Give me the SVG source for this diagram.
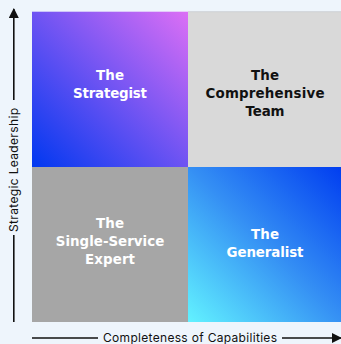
<svg xmlns="http://www.w3.org/2000/svg" width="341" height="344" viewBox="0 0 341 344">
<defs>
<linearGradient id="gTL" x1="0" y1="1" x2="1" y2="0">
<stop offset="0" stop-color="#0038f0"/>
<stop offset="1" stop-color="#dc6ff5"/>
</linearGradient>
<linearGradient id="gBR" x1="0" y1="1" x2="1" y2="0">
<stop offset="0" stop-color="#62f2ff"/>
<stop offset="0.5" stop-color="#3590f4"/>
<stop offset="1" stop-color="#003cf0"/>
</linearGradient>
<marker id="arr" viewBox="0 0 10 10" refX="9" refY="5" markerWidth="10" markerHeight="10" markerUnits="userSpaceOnUse" orient="auto">
<path d="M0,0 L10,5 L0,10 Z" fill="#111"/>
</marker>
<style>
.lbl{font-family:"DejaVu Sans","Noto Sans","Liberation Sans",sans-serif;font-weight:700;font-size:13.4px;text-anchor:middle}
.ax{font-family:"Inter","Noto Sans","Liberation Sans",sans-serif;font-weight:400;font-size:12px;fill:#111;text-anchor:middle}
.axl{stroke:#111;stroke-width:1.6;fill:none}
</style>
</defs>
<rect width="341" height="344" fill="#eef5fc"/>
<g id="q-strategist">
<rect x="32" y="11.7" width="156" height="155.3" fill="url(#gTL)"/>
<text class="lbl" fill="#fff"><tspan x="110" y="80" textLength="28">The</tspan><tspan x="110" y="98" textLength="74">Strategist</tspan></text>
</g>
<g id="q-comprehensive">
<rect x="188" y="11.7" width="156" height="155.3" fill="#d9d9d9"/>
<line x1="188" y1="11.7" x2="341" y2="11.7" stroke="#c8ccd2" stroke-width="0.8"/>
<text class="lbl" fill="#111"><tspan x="265" y="80" textLength="28">The</tspan><tspan x="265" y="98" textLength="119">Comprehensive</tspan><tspan x="265" y="115.5" textLength="39">Team</tspan></text>
</g>
<g id="q-single">
<rect x="32" y="167" width="156" height="155" fill="#a6a6a6"/>
<text class="lbl" fill="#fff"><tspan x="110" y="228" textLength="28">The</tspan><tspan x="110" y="246" textLength="108.5">Single-Service</tspan><tspan x="110" y="263.5" textLength="50">Expert</tspan></text>
</g>
<g id="q-generalist">
<rect x="188" y="167" width="156" height="155" fill="url(#gBR)"/>
<text class="lbl" fill="#fff"><tspan x="265" y="239" textLength="28">The</tspan><tspan x="265" y="256.5" textLength="77">Generalist</tspan></text>
</g>
<g id="connectors">
<line class="axl" x1="13.8" y1="100" x2="13.8" y2="9" marker-end="url(#arr)"/>
<line class="axl" x1="13.8" y1="322" x2="13.8" y2="235"/>
<line class="axl" x1="32" y1="338" x2="98" y2="338"/>
<line class="axl" x1="282" y1="338" x2="341" y2="338" marker-end="url(#arr)"/>
</g>
<g id="axis-labels">
<text class="ax" transform="translate(18.2,170) rotate(-90)" x="0" y="0" textLength="124">Strategic Leadership</text>
<text class="ax" x="190" y="342.3" textLength="174">Completeness of Capabilities</text>
</g>
</svg>
